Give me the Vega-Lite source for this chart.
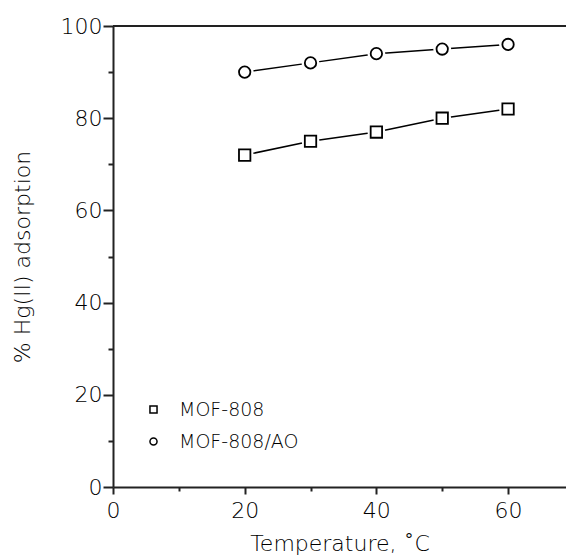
{
  "$schema": "https://vega.github.io/schema/vega-lite/v6.json",
  "width": 453,
  "height": 461,
  "autosize": "none",
  "padding": {"left": 113, "top": 26, "right": 0, "bottom": 69},
  "background": "white",
  "config": {
    "view": {"stroke": null},
    "font": "DejaVu Sans",
    "axis": {
      "grid": false,
      "domainColor": "#222",
      "domainWidth": 2,
      "tickColor": "#222",
      "tickWidth": 2,
      "labelFont": "DejaVu Sans",
      "labelFontSize": 22,
      "labelColor": "black",
      "labelFontWeight": 200,
      "titleFont": "DejaVu Sans",
      "titleFontSize": 22,
      "titleFontWeight": 200,
      "titleColor": "black"
    }
  },
  "data": {
    "values": [
      {"temp": 20, "pct": 72, "series": "MOF-808"},
      {"temp": 30, "pct": 75, "series": "MOF-808"},
      {"temp": 40, "pct": 77, "series": "MOF-808"},
      {"temp": 50, "pct": 80, "series": "MOF-808"},
      {"temp": 60, "pct": 82, "series": "MOF-808"},
      {"temp": 20, "pct": 90, "series": "MOF-808/AO"},
      {"temp": 30, "pct": 92, "series": "MOF-808/AO"},
      {"temp": 40, "pct": 94, "series": "MOF-808/AO"},
      {"temp": 50, "pct": 95, "series": "MOF-808/AO"},
      {"temp": 60, "pct": 96, "series": "MOF-808/AO"}
    ]
  },
  "encoding": {
    "x": {
      "field": "temp",
      "type": "quantitative",
      "scale": {"domain": [0, 68.8], "nice": false, "zero": false},
      "axis": {
        "title": "Temperature, ˚C",
        "values": [0, 10, 20, 30, 40, 50, 60],
        "labelExpr": "datum.value % 20 === 0 ? datum.label : ''",
        "tickSize": {"condition": {"test": "datum.value % 20 === 0", "value": 7}, "value": 4},
        "labelPadding": 6,
        "titlePadding": 12,
        "labelFlush": false,
        "labelOverlap": false
      }
    },
    "y": {
      "field": "pct",
      "type": "quantitative",
      "scale": {"domain": [0, 100], "nice": false},
      "axis": {
        "title": "% Hg(II) adsorption",
        "values": [0, 10, 20, 30, 40, 50, 60, 70, 80, 90, 100],
        "labelExpr": "datum.value % 20 === 0 ? datum.label : ''",
        "tickSize": {"condition": {"test": "datum.value % 20 === 0", "value": 10}, "value": 5},
        "labelPadding": 1,
        "titlePadding": 26,
        "labelFlush": false,
        "labelOverlap": false
      }
    }
  },
  "layer": [
    {
      "mark": {"type": "rule", "color": "#222", "strokeWidth": 2},
      "encoding": {"y": {"datum": 100}, "x": null}
    },
    {
      "mark": {"type": "line", "color": "black", "strokeWidth": 1.5},
      "encoding": {"detail": {"field": "series"}}
    },
    {
      "mark": {"type": "circle", "color": "white", "opacity": 1, "size": 320},
      "encoding": {}
    },
    {
      "mark": {"type": "point", "filled": false, "color": "black", "strokeWidth": 1.8, "opacity": 1, "size": 130},
      "encoding": {
        "shape": {
          "field": "series",
          "type": "nominal",
          "scale": {"domain": ["MOF-808", "MOF-808/AO"], "range": ["square", "circle"]},
          "legend": {
            "title": null,
            "orient": "none",
            "legendX": 31,
            "legendY": 374,
            "padding": 0,
            "symbolSize": 50,
            "symbolStrokeColor": "black",
            "symbolStrokeWidth": 1.5,
            "symbolOffset": 0,
            "labelOffset": 16,
            "labelFontSize": 19,
            "labelFont": "DejaVu Sans",
            "labelFontWeight": 200,
            "labelColor": "black",
            "rowPadding": 12
          }
        }
      }
    }
  ]
}
